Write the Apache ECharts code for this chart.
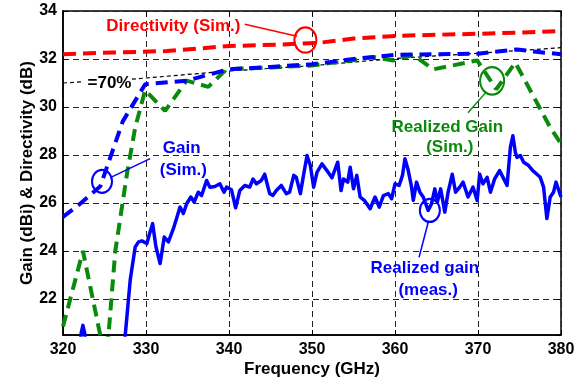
<!DOCTYPE html>
<html>
<head>
<meta charset="utf-8">
<script src="https://cdn.jsdelivr.net/npm/echarts@6/dist/echarts.min.js"></script>
<style>
  html, body { margin: 0; padding: 0; background: #fff; }
  #main { width: 584px; height: 383px; }
</style>
</head>
<body>
<div id="main"></div>
<script>
// Directivity (Sim.)
var dirFreq = [320, 326, 332.5, 340, 346, 351, 355, 360, 365, 370, 375, 380];
var dirVal  = [32.2, 32.27, 32.33, 32.54, 32.6, 32.68, 32.85, 32.96, 33.01, 33.05, 33.1, 33.16];

// Gain (Sim.)
var gainFreq = [320, 322, 324.5, 327.2, 329.9, 335, 337, 340, 345, 350, 355, 360, 365, 370, 374.7, 377, 380];
var gainVal  = [25.42, 25.95, 26.7, 29.4, 30.95, 31.1, 31.3, 31.57, 31.67, 31.78, 32.0, 32.17, 32.2, 32.22, 32.4, 32.3, 32.2];

// Realized Gain (Sim.)
var rgFreq = [320, 322.4, 325.2, 326.3, 327.7, 328.7, 329.9, 332.3, 334.9, 337.5, 339.7, 345, 350, 355, 357.4, 359.8, 362.2, 364.6, 369.9, 372.2, 374.5, 378.7, 380];
var rgVal  = [20.85, 24.0, 19.3, 24.0, 27.2, 29.15, 30.7, 29.84, 31.1, 30.84, 31.57, 31.65, 31.73, 31.95, 32.08, 31.94, 32.17, 31.57, 31.94, 30.74, 31.85, 29.15, 28.47];

// 70% efficiency reference (gap where the label sits)
var effFreq = [320, 322.3, 325, 328.3, 340, 350, 360, 370, 380];
var effVal  = [31.0, 31.05, null, 31.16, 31.5, 31.72, 32.02, 32.24, 32.47];

// Realized gain (meas.)
var measFreq = [321.9, 322.2, 322.4, 322.6, 322.9, 327.2, 327.5, 328.1, 328.7, 329.1, 329.5, 330.1, 330.5, 330.8, 331.2, 331.7, 332.2, 332.7, 333.3, 333.8, 334.1, 334.5, 334.9, 335.4, 335.8, 336.3, 336.7, 337.3, 337.7, 338.3, 338.9, 339.4, 339.7, 340.3, 340.8, 341.3, 341.9, 342.5, 342.9, 343.3, 343.9, 344.3, 344.9, 345.3, 345.7, 346.3, 346.9, 347.3, 347.8, 348.1, 348.6, 349.0, 349.4, 349.8, 350.2, 350.6, 351.2, 351.8, 352.4, 353.1, 353.5, 353.8, 354.3, 354.6, 355.0, 355.4, 355.8, 356.3, 357.0, 357.6, 358.1, 358.6, 359.2, 359.6, 360.0, 360.5, 360.9, 361.2, 361.6, 362.0, 362.2, 362.6, 363.0, 363.4, 364.0, 364.4, 364.8, 365.1, 365.5, 366.0, 366.4, 366.9, 367.3, 367.8, 368.2, 368.8, 369.4, 369.9, 370.2, 370.6, 371.1, 371.5, 372.0, 372.6, 373.0, 373.5, 373.9, 374.2, 374.5, 374.7, 375.1, 375.5, 376.1, 376.6, 377.1, 377.5, 377.9, 378.3, 378.7, 379.1, 379.4, 380.0];
var measVal  = [19.6, 20.6, 20.9, 20.6, 19.6, 19.6, 20.5, 22.8, 24.17, 24.38, 24.42, 24.31, 24.8, 25.14, 24.17, 23.48, 24.58, 24.38, 24.93, 25.49, 25.83, 25.56, 25.97, 26.25, 26.04, 26.45, 26.31, 26.94, 26.66, 26.69, 26.8, 26.45, 26.66, 26.55, 25.8, 26.52, 26.73, 26.66, 27.0, 26.8, 26.94, 27.2, 26.39, 26.32, 26.52, 26.73, 26.39, 26.45, 27.15, 27.08, 26.39, 27.2, 27.98, 27.56, 26.66, 27.28, 27.63, 27.35, 27.05, 27.7, 26.52, 27.0, 26.87, 27.49, 26.59, 27.15, 26.25, 26.11, 25.76, 26.25, 25.83, 26.31, 26.39, 26.18, 26.8, 26.73, 27.15, 27.84, 27.35, 26.66, 26.11, 26.87, 26.45, 26.25, 25.69, 25.97, 26.59, 26.04, 26.59, 25.62, 26.45, 27.2, 26.45, 26.66, 26.87, 26.25, 26.66, 26.11, 27.2, 26.8, 27.07, 26.45, 27.0, 27.35, 27.08, 26.73, 28.32, 28.8, 28.11, 27.9, 27.98, 27.7, 27.56, 27.35, 27.2, 27.07, 26.66, 25.35, 26.25, 26.45, 26.87, 26.25];

function pairs(xs, ys) {
    var out = [];
    for (var i = 0; i < xs.length; i++) {
        out.push([xs[i], ys[i] === null ? '-' : ys[i]]);
    }
    return out;
}

var FONT = 'Liberation Sans, Arial, sans-serif';
var RED = '#ff0000', BLUE = '#0000ff', GREEN = '#0a8a0a';

var myChart = echarts.init(document.getElementById('main'), null, {renderer: 'canvas'});

var gridDash = {show: true, lineStyle: {color: '#222', width: 1, type: [6, 4]}};

var option = {
    animation: false,
    backgroundColor: '#fff',
    grid: {
        left: 63, right: 23, top: 11, bottom: 47,
        show: true, borderColor: '#000', borderWidth: 1.5
    },
    xAxis: [
        {
            type: 'value', min: 320, max: 380, interval: 10,
            name: 'Frequency (GHz)', nameLocation: 'middle', nameGap: 26, nameMoveOverlap: false,
            nameTextStyle: {color: '#000', fontFamily: FONT, fontWeight: 'bold', fontSize: 17},
            axisLine: {show: true, lineStyle: {color: '#000', width: 1.5}},
            axisTick: {show: true, inside: true, length: 5, lineStyle: {color: '#000'}},
            axisLabel: {color: '#000', fontFamily: FONT, fontWeight: 'bold', fontSize: 16, margin: 7},
            splitLine: gridDash
        },
        {
            type: 'value', min: 320, max: 380, interval: 10, position: 'top',
            axisLine: {show: false},
            axisTick: {show: true, inside: true, length: 5, lineStyle: {color: '#000'}},
            axisLabel: {show: false},
            splitLine: {show: false}
        }
    ],
    yAxis: [
        {
            type: 'value', min: 20.5, max: 34, minInterval: 2, maxInterval: 2,
            name: 'Gain (dBi) & Directivity (dB)', nameLocation: 'middle', nameGap: 27, nameMoveOverlap: false,
            nameTextStyle: {color: '#000', fontFamily: FONT, fontWeight: 'bold', fontSize: 17},
            axisLine: {show: true, lineStyle: {color: '#000', width: 1.5}},
            axisTick: {show: true, inside: true, length: 5, lineStyle: {color: '#000'}},
            axisLabel: {color: '#000', fontFamily: FONT, fontWeight: 'bold', fontSize: 16, margin: 6, showMinLabel: false},
            splitLine: gridDash
        },
        {
            type: 'value', min: 20.5, max: 34, minInterval: 2, maxInterval: 2, position: 'right',
            axisLine: {show: false},
            axisTick: {show: true, inside: true, length: 5, lineStyle: {color: '#000'}},
            axisLabel: {show: false},
            splitLine: {show: false}
        }
    ],
    series: [
        {
            name: '70%', type: 'line', showSymbol: false, connectNulls: false, z: 3,
            lineStyle: {color: '#000', width: 1.2, type: [4, 3]},
            data: pairs(effFreq, effVal)
        },
        {
            name: 'Realized gain (meas.)', type: 'line', showSymbol: false, z: 4,
            lineStyle: {color: BLUE, width: 3.5, join: 'round'},
            data: pairs(measFreq, measVal)
        },
        {
            name: 'Realized Gain (Sim.)', type: 'line', showSymbol: false, z: 5,
            lineStyle: {color: GREEN, width: 4, type: [12, 7]},
            data: pairs(rgFreq, rgVal)
        },
        {
            name: 'Gain (Sim.)', type: 'line', showSymbol: false, z: 6,
            lineStyle: {color: BLUE, width: 4, type: [12, 7]},
            data: pairs(gainFreq, gainVal)
        },
        {
            name: 'Directivity (Sim.)', type: 'line', showSymbol: false, z: 6,
            lineStyle: {color: RED, width: 4, type: [13, 7]},
            data: pairs(dirFreq, dirVal)
        }
    ]
};
myChart.setOption(option);

// annotations placed in data coordinates
function px(f, v) { return myChart.convertToPixel({gridIndex: 0}, [f, v]); }

function label(text, f, v, color) {
    var p = px(f, v);
    return {
        type: 'text', x: p[0], y: p[1], z: 100,
        style: {text: text, fill: color, font: 'bold 17px ' + FONT, align: 'center', verticalAlign: 'middle'}
    };
}
function pointer(f1, v1, f2, v2, color) {
    var a = px(f1, v1), b = px(f2, v2);
    return {type: 'line', z: 100, shape: {x1: a[0], y1: a[1], x2: b[0], y2: b[1]}, style: {stroke: color, lineWidth: 1.5}};
}
function ring(f, v, r, color) {
    var c = px(f, v);
    return {type: 'circle', z: 100, x: c[0], y: c[1], scaleY: 1.15, shape: {cx: 0, cy: 0, r: r}, style: {fill: null, stroke: color, lineWidth: 2}};
}

myChart.setOption({
    graphic: [
        label('Directivity (Sim.)', 333.3, 33.37, RED),
        pointer(341.9, 33.45, 348.2, 32.95, RED),
        ring(349.2, 32.79, 11, RED),

        label('=70%', 325.6, 31.0, '#000'),

        label('Gain', 334.3, 28.27, BLUE),
        label('(Sim.)', 334.5, 27.35, BLUE),
        pointer(330.5, 27.85, 325.7, 27.06, BLUE),
        ring(324.7, 26.9, 10, BLUE),

        label('Realized Gain', 366.3, 29.14, GREEN),
        label('(Sim.)', 366.6, 28.31, GREEN),
        pointer(368.8, 29.76, 371.0, 30.63, GREEN),
        ring(371.7, 31.09, 12, GREEN),

        label('Realized gain', 363.6, 23.29, BLUE),
        label('(meas.)', 364.0, 22.37, BLUE),
        pointer(362.9, 23.74, 364.0, 25.2, BLUE),
        ring(364.2, 25.69, 10, BLUE)
    ]
});
</script>
</body>
</html>
